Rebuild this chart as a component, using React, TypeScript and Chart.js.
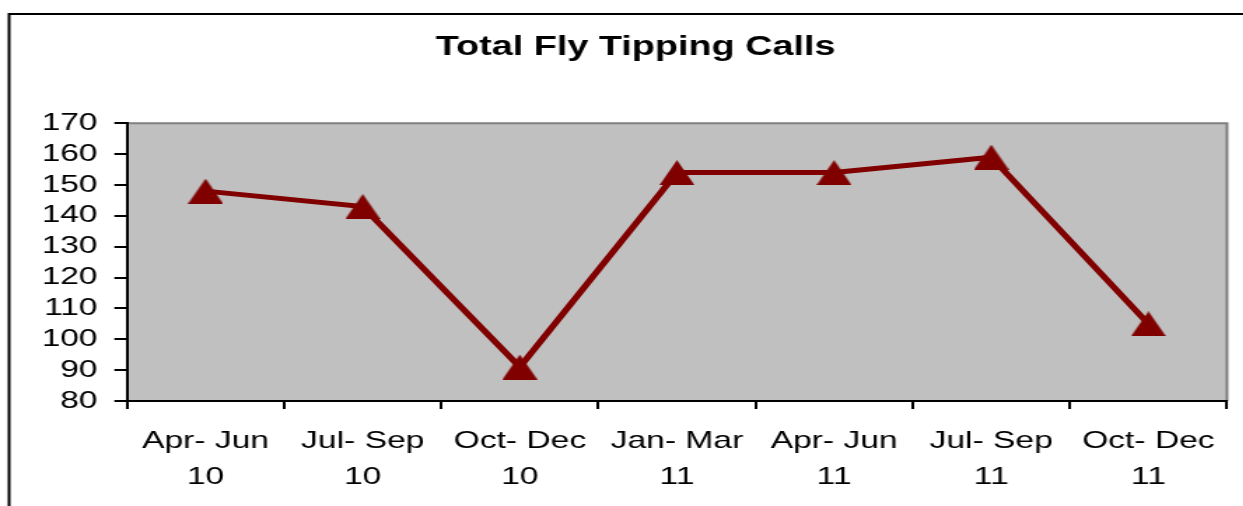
import React, { useEffect, useRef } from 'react';
import { Chart, registerables } from 'chart.js';

Chart.register(...registerables);

const categories: string[][] = [
  ['Apr- Jun', '10'],
  ['Jul- Sep', '10'],
  ['Oct- Dec', '10'],
  ['Jan- Mar', '11'],
  ['Apr- Jun', '11'],
  ['Jul- Sep', '11'],
  ['Oct- Dec', '11'],
];
const calls: number[] = [148, 143, 91, 154, 154, 159, 105];
const yMin = 80;
const yMax = 170;
const yStep = 10;
const chartTitle = 'Total Fly Tipping Calls';

const STRETCH = 1.4;
const W = 888;
const H = 506;
const FONT = '"Liberation Sans", Arial, sans-serif';

export default function App() {
  const ref = useRef<HTMLCanvasElement>(null);

  useEffect(() => {
    if (!ref.current) return;
    const tri = document.createElement('canvas');
    tri.width = 25;
    tri.height = 25;
    const tctx = tri.getContext('2d')!;
    tctx.fillStyle = '#800000';
    tctx.beginPath();
    tctx.moveTo(12.5, 0);
    tctx.lineTo(25, 25);
    tctx.lineTo(0, 25);
    tctx.closePath();
    tctx.fill();

    const bgPlugin = {
      id: 'bgPlugin',
      beforeDraw(chart: any) {
        const { ctx, chartArea: a } = chart;
        ctx.save();
        ctx.fillStyle = '#ffffff';
        ctx.fillRect(0, 0, chart.width, chart.height);
        ctx.fillStyle = '#C0C0C0';
        ctx.fillRect(a.left, a.top, a.right - a.left, a.bottom - a.top);
        ctx.strokeStyle = '#808080';
        ctx.lineWidth = 2;
        ctx.beginPath();
        ctx.moveTo(a.left, a.top);
        ctx.lineTo(a.right, a.top);
        ctx.lineTo(a.right, a.bottom);
        ctx.stroke();
        ctx.strokeStyle = '#000000';
        ctx.lineWidth = 2;
        ctx.beginPath();
        ctx.moveTo(6.5, chart.height);
        ctx.lineTo(6.5, 14);
        ctx.lineTo(chart.width, 14);
        ctx.stroke();
        ctx.restore();
      },
    };

    const chart = new Chart(ref.current, {
      type: 'line',
      data: {
        labels: categories,
        datasets: [
          {
            data: calls,
            borderColor: '#800000',
            backgroundColor: '#800000',
            borderWidth: 5,
            pointStyle: tri as any,
            pointRadius: 12,
            pointBorderWidth: 0,
            tension: 0,
            fill: false,
          },
        ],
      },
      options: {
        animation: false,
        responsive: false,
        devicePixelRatio: 1,
        layout: { autoPadding: false, padding: { left: 31.6, right: 11.6, top: 0, bottom: 0 } },
        plugins: {
          legend: { display: false },
          tooltip: { enabled: false },
          title: {
            display: true,
            text: chartTitle,
            color: '#000000',
            font: { family: FONT, size: 27, weight: 'bold', lineHeight: 1.2 },
            padding: { top: 31.0, bottom: 59.8 },
          },
        },
        scales: {
          x: {
            type: 'category',
            offset: true,
            grid: {
              offset: true,
              drawOnChartArea: false,
              drawTicks: true,
              tickLength: 8,
              color: '#000000',
              lineWidth: 2,
            },
            border: { display: true, color: '#000000', width: 2 },
            ticks: {
              color: '#000000',
              font: { family: FONT, size: 24, lineHeight: 1.5 },
              padding: 14.5,
              maxRotation: 0,
              autoSkip: false,
            },
            afterFit(s: any) {
              s.height = 105;
              s.paddingLeft = 0;
              s.paddingRight = 0;
            },
          },
          y: {
            min: yMin,
            max: yMax,
            grid: { drawOnChartArea: false, tickLength: 9, color: '#000000', lineWidth: 2 },
            border: { display: true, color: '#000000', width: 2 },
            ticks: {
              stepSize: yStep,
              autoSkip: false,
              color: '#000000',
              font: { family: FONT, size: 24 },
              padding: 12,
            },
            afterFit(s: any) {
              s.width = 59.1;
              s.paddingTop = 0;
              s.paddingBottom = 0;
            },
          },
        },
      },
      plugins: [bgPlugin],
    });
    return () => chart.destroy();
  }, []);

  return (
    <div
      style={{
        position: 'absolute',
        left: 0,
        top: 0,
        width: 1243,
        height: 506,
        overflow: 'hidden',
        background: '#ffffff',
      }}
    >
      <canvas
        ref={ref}
        width={W}
        height={H}
        style={{ display: 'block', transform: `scaleX(${STRETCH})`, transformOrigin: '0 0' }}
      />
    </div>
  );
}
